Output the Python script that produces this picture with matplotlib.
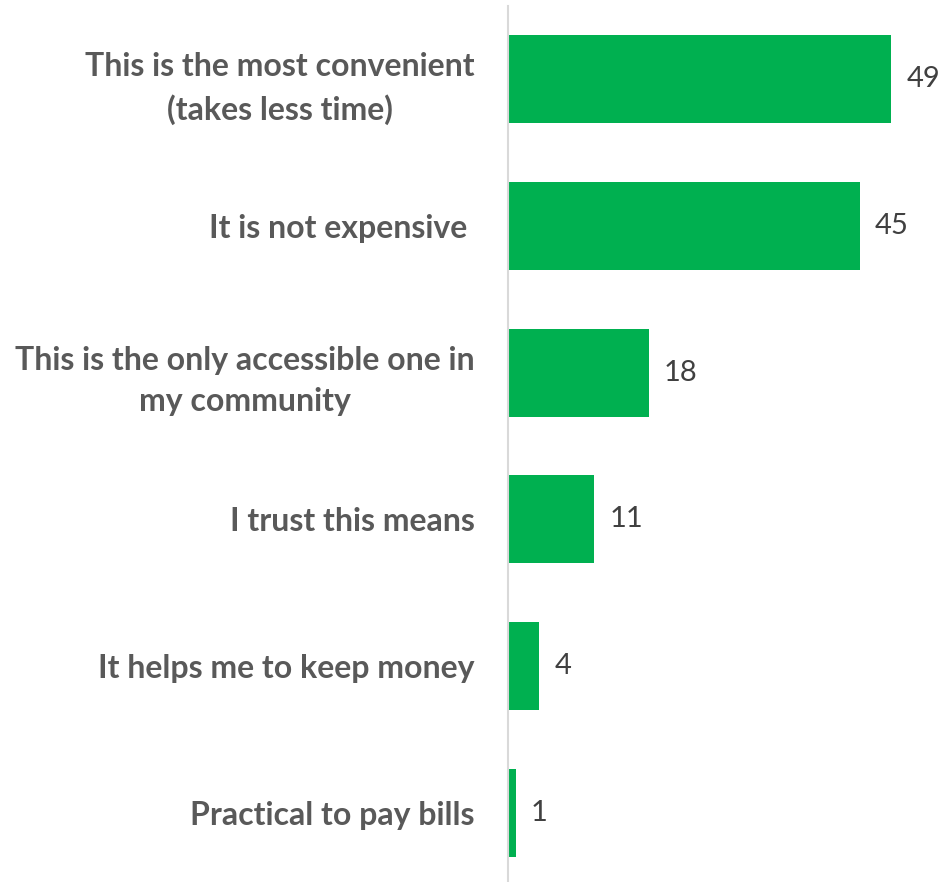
import matplotlib
matplotlib.use("Agg")
import matplotlib.pyplot as plt

# Reasons for choosing the payment means (number of respondents)
reasons = [
    "This is the most convenient\n(takes less time)",
    "It is not expensive ",
    "This is the only accessible one in\nmy community",
    "I trust this means",
    "It helps me to keep money",
    "Practical to pay bills",
]
counts = [49, 45, 18, 11, 4, 1]

GREEN = "#00B050"
LABEL_GREY = "#595959"
VALUE_GREY = "#404040"
AXIS_GREY = "#D9D9D9"

fig = plt.figure(figsize=(9.42, 8.82), dpi=100)
ax = fig.add_axes([508 / 942, -4 / 882, 1 - 508 / 942, 880 / 882])

pos = list(range(len(reasons)))
bars = ax.barh(pos, counts, height=0.6, color=GREEN)

ax.set_ylim(len(reasons) - 0.5, -0.5)
ax.set_xlim(0, 55.5)

ax.set_yticks(pos)
ax.set_yticklabels(reasons, fontfamily="Lato", fontweight="bold",
                   fontsize=23, color=LABEL_GREY, multialignment="center",
                   linespacing=1.5)
ax.tick_params(axis="y", length=0, pad=24)
ax.set_xticks([])

for side in ("top", "right", "bottom"):
    ax.spines[side].set_visible(False)
ax.spines["left"].set_color(AXIS_GREY)
ax.spines["left"].set_linewidth(1.5)

ax.bar_label(bars, labels=[str(c) for c in counts], padding=11,
             fontfamily="Lato", fontsize=21, color=VALUE_GREY)

fig.savefig("out.png", dpi=100)
